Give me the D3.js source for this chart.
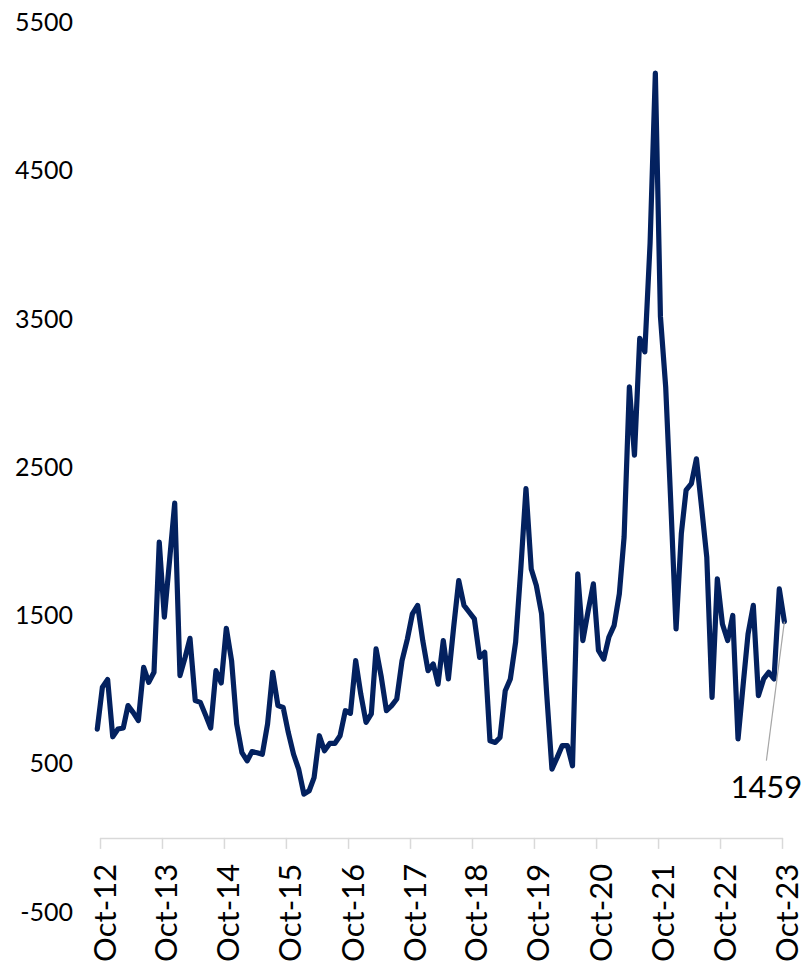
<!DOCTYPE html>
<html>
<head>
<meta charset="utf-8">
<script src="https://cdn.jsdelivr.net/npm/d3@7"></script>
<style>
  html, body { margin: 0; padding: 0; background: #fff; }
  svg { display: block; font-family: Lato, "Open Sans", sans-serif; }
</style>
</head>
<body>
<svg id="chart" width="810" height="968"></svg>
<script>
// monthly series, Sep-12 .. Oct-23
const startYear = 2012;
const startMonth = 8; // September (0-based)
const values = [
  734, 1016, 1068, 682, 734, 741, 892, 845, 791, 1150, 1049, 1117,
  1995, 1489, 1875, 2258, 1095, 1220, 1346, 926, 914, 828, 741, 1128,
  1045, 1414, 1196, 768, 575, 520, 582, 574, 564, 768, 1117, 892,
  880, 711, 564, 464, 295, 318, 407, 689, 588, 637, 637, 689,
  858, 840, 1196, 970, 779, 836, 1275, 1083, 858, 892, 937, 1196,
  1339, 1511, 1568, 1331, 1128, 1173, 1037, 1331, 1072, 1421, 1736, 1568,
  1522, 1477, 1218, 1252, 655, 644, 677, 993, 1072, 1320, 1804, 2356,
  1814, 1703, 1511, 971, 464, 543, 622, 622, 486, 1781, 1331, 1530,
  1713, 1264, 1206, 1353, 1432, 1647, 2029, 3043, 2581, 3370, 3279, 4011,
  5159, 3516, 3041, 2258, 1409, 2051, 2345, 2389, 2557, 2223, 1893, 948,
  1747, 1443, 1331, 1500, 667, 1043, 1375, 1568, 959, 1072, 1117, 1072,
  1680, 1459
];
const yTicks = [-500, 500, 1500, 2500, 3500, 4500, 5500];
const xTickYears = [2012, 2013, 2014, 2015, 2016, 2017, 2018, 2019, 2020, 2021, 2022, 2023];
const lastLabel = '1459';

const data = values.map((v, i) => ({ date: new Date(startYear, startMonth + i, 15), value: v }));

const svg = d3.select('#chart');

const x = d3.scaleTime()
  .domain([new Date(2012, 9, 1), new Date(2023, 9, 1)])
  .range([100, 782]);

const y = d3.scaleLinear()
  .domain([-500, 5500])
  .range([912, 22.5]);

// y axis: labels only (plain hyphen for negatives, like the source)
const yAxis = svg.append('g')
  .attr('transform', 'translate(80,0)')
  .call(d3.axisLeft(y).tickValues(yTicks).tickSize(0).tickPadding(7).tickFormat(d => String(d)));
yAxis.select('.domain').remove();
yAxis.selectAll('text')
  .attr('font-size', '25px')
  .attr('font-family', 'Lato, sans-serif')
  .attr('fill', '#000');

// x axis on zero line
const xAxis = svg.append('g')
  .attr('transform', `translate(0,${y(0)})`)
  .call(d3.axisBottom(x)
    .tickValues(xTickYears.map(yr => new Date(yr, 9, 1)))
    .tickSize(11)
    .tickSizeOuter(0)
    .tickFormat(d3.timeFormat('%b-%y')));
xAxis.select('.domain').attr('stroke', '#d9d9d9').attr('stroke-width', 1.5);
xAxis.selectAll('.tick line').attr('stroke', '#d9d9d9').attr('stroke-width', 1.5);
xAxis.selectAll('.tick text')
  .attr('font-size', '31px')
  .attr('font-family', 'Lato, sans-serif')
  .attr('fill', '#000')
  .attr('text-anchor', 'end')
  .attr('dy', null)
  .attr('y', 0)
  .attr('dominant-baseline', 'central')
  .attr('transform', 'translate(3,26) rotate(-90)');

// the line
const line = d3.line()
  .x(d => x(d.date))
  .y(d => y(d.value));

svg.append('path')
  .datum(data)
  .attr('d', line)
  .attr('fill', 'none')
  .attr('stroke', '#03215f')
  .attr('stroke-width', 5.2)
  .attr('stroke-linejoin', 'round')
  .attr('stroke-linecap', 'round');

// label for the last value with a leader line
const last = data[data.length - 1];
const lx = x(last.date), ly = y(last.value);
svg.append('line')
  .attr('x1', lx).attr('y1', ly)
  .attr('x2', lx - 18).attr('y2', ly + 139)
  .attr('stroke', '#a6a6a6')
  .attr('stroke-width', 1.2);

svg.append('text')
  .attr('x', lx - 18)
  .attr('y', ly + 176)
  .attr('text-anchor', 'middle')
  .attr('font-size', '31px')
  .attr('font-family', 'Lato, sans-serif')
  .attr('fill', '#000')
  .text(lastLabel);
</script>
</body>
</html>
